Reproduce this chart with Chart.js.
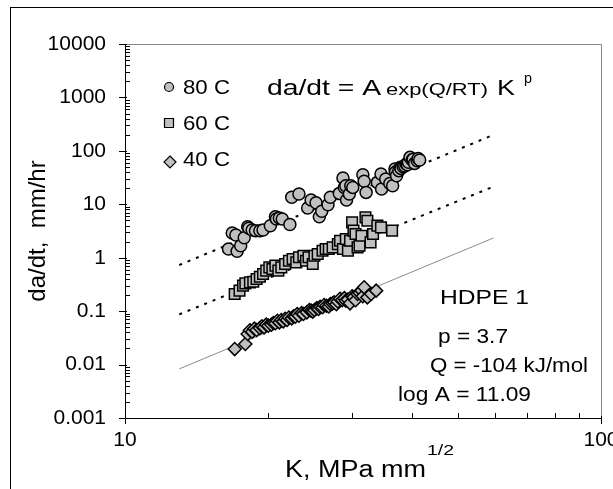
<!DOCTYPE html>
<html>
<head>
<meta charset="utf-8">
<script src="https://cdn.jsdelivr.net/npm/chart.js@4.4.0/dist/chart.umd.min.js"></script>
<style>
  html, body { margin: 0; padding: 0; background: #fff; }
</style>
</head>
<body>
<canvas id="chart" width="613" height="489"></canvas>
<script>
// 80 C data (K, da/dt)
const k80 = [16.5, 16.8, 17.1, 17.2, 17.5, 17.8, 18.1, 18.2, 18.5, 18.8, 19.2, 19.5, 20.2, 20.7, 20.8, 21.1, 21.4, 22.2, 22.4, 23.2,
  24.2, 24.6, 25.2, 25.6, 25.9, 26.7, 27.0, 28.2, 28.7, 28.9, 29.1, 29.2, 29.6, 29.8, 30.1, 31.6, 31.8, 32.1, 33.9, 34.5,
  34.6, 35.3, 36.0, 36.5, 36.9, 37.0, 37.2, 37.6, 37.9, 38.0, 38.4, 38.7, 39.0, 39.2, 39.4, 39.7, 40.1, 40.3, 40.6, 41.1, 41.3, 41.6];
const rate80 = [1.46, 2.9, 2.66, 1.32, 1.68, 2.37, 3.81, 3.55, 3.3, 3.21, 3.21, 3.3, 3.98, 5.86, 5.3, 5.53, 5.3, 4.2, 13.5, 15.6,
  8.5, 12.0, 10.7, 5.86, 7.4, 9.8, 13.5, 16.0, 31.0, 20.7, 22.3, 12.0, 15.6, 22.3, 20.7, 35.8, 26.9, 16.7, 25.7, 36.8,
  19.3, 29.7, 24.6, 22.3, 45.7, 40.0, 34.3, 42.6, 49.1, 47.0, 50.6, 52.0, 56.7, 55.0, 61.0, 75.6, 67.3, 70.0, 58.3, 65.5, 72.0, 67.3];

// 60 C data
const k60 = [17.0, 17.4, 17.7, 17.9, 18.3, 18.6, 18.9, 19.2, 19.5, 19.8, 20.1, 20.4, 20.7, 21.0, 21.3, 21.7, 22.1, 22.5, 22.9, 23.2,
  23.7, 24.0, 24.3, 24.8, 25.0, 25.4, 26.0, 26.4, 26.8, 27.3, 28.0, 28.3, 28.7, 29.1, 29.4, 29.7, 30.0, 30.2, 30.5, 30.8,
  31.1, 31.4, 32.0, 32.3, 32.8, 33.2, 33.9, 34.5, 36.4];
const rate60 = [0.209, 0.242, 0.30, 0.331, 0.346, 0.356, 0.399, 0.441, 0.495, 0.572, 0.66, 0.615, 0.71, 0.572, 0.66, 0.762, 0.879, 0.946, 0.818, 1.02,
  1.09, 0.879, 1.02, 0.762, 1.09, 1.17, 1.35, 1.46, 1.46, 1.56, 1.80, 2.08, 1.46, 2.24, 1.35, 2.08, 4.59, 3.21, 2.78, 1.56,
  1.68, 2.58, 5.69, 4.93, 1.94, 2.78, 3.98, 3.70, 3.21];

// 40 C data
const k40 = [17.0, 17.9, 18.1, 18.3, 18.5, 18.7, 18.9, 19.2, 19.4, 19.6, 19.8, 20.0, 20.3, 20.5, 20.7, 20.9, 21.1, 21.3, 21.5, 21.7,
  21.9, 22.1, 22.4, 22.6, 22.8, 23.0, 23.2, 23.5, 23.7, 24.1, 24.4, 24.6, 24.8, 25.0, 25.3, 25.5, 25.7, 26.0, 26.2, 26.5,
  26.8, 27.0, 27.3, 27.5, 27.8, 28.0, 28.3, 28.6, 28.9, 29.1, 29.4, 29.7, 30.0, 30.2, 30.5, 30.8, 31.1, 31.4, 31.6, 31.8,
  32.3, 32.9, 33.7];
const rate40 = [0.0195, 0.0243, 0.0373, 0.044, 0.0413, 0.047, 0.0444, 0.0483, 0.052, 0.0498, 0.056, 0.0535, 0.0558, 0.060, 0.0592, 0.066, 0.0617, 0.068, 0.0644, 0.072,
  0.0682, 0.076, 0.0733, 0.080, 0.0787, 0.088, 0.0822, 0.092, 0.0883, 0.095, 0.105, 0.102, 0.098, 0.105, 0.114, 0.110, 0.120, 0.118, 0.130, 0.126,
  0.122, 0.136, 0.140, 0.146, 0.135, 0.152, 0.170, 0.161, 0.175, 0.157, 0.165, 0.140, 0.190, 0.181, 0.160, 0.209, 0.220, 0.242, 0.190, 0.279,
  0.181, 0.209, 0.242];

// fitted power-law lines, p = 3.7
const fitK = [13, 59.5];
const fit80 = [0.73, 200];
const fit60 = [0.087, 21.5];
const fit40 = [0.0083, 2.35];

// axes
const xTickValues = [10, 20, 30, 40, 50, 60, 70, 80, 90, 100];
const xTickLabels = { 10: '10', 100: '100' };
const yTickValues = [];
[0.001, 0.01, 0.1, 1, 10, 100, 1000].forEach(d => {
  for (let m = 1; m < 10; m++) yTickValues.push(+(d * m).toPrecision(3));
});
yTickValues.push(10000);
const yTickLabels = { 0.001: '0.001', 0.01: '0.01', 0.1: '0.1', 1: '1', 10: '10', 100: '100', 1000: '1000', 10000: '10000' };

const pts = (xs, ys) => xs.map((x, i) => ({ x: x, y: ys[i] }));
const FONT = '"Liberation Sans", Arial, sans-serif';
const GREY = '#c0c0c0';

function isDecade(v) {
  const l = Math.log10(v);
  return Math.abs(l - Math.round(l)) < 1e-6;
}

// text stretched horizontally to span a given width (the source uses a wide face)
function fitText(ctx, str, x, y, size, w) {
  ctx.save();
  ctx.font = size + 'px ' + FONT;
  const sx = w / ctx.measureText(str).width;
  ctx.translate(x, y);
  ctx.scale(sx, 1);
  ctx.fillText(str, 0, 0);
  ctx.restore();
}

const decorations = {
  id: 'decorations',
  beforeDraw(chart) {
    const ctx = chart.ctx;
    ctx.save();
    ctx.fillStyle = '#fff';
    ctx.fillRect(0, 0, chart.width, chart.height);
    ctx.strokeStyle = '#000';
    ctx.lineWidth = 1;
    ctx.strokeRect(10.5, 7.5, 700, 600);
    ctx.restore();
  },
  afterDraw(chart) {
    const ctx = chart.ctx;
    const a = chart.chartArea;
    const xs = chart.scales.x, ys = chart.scales.y;
    ctx.save();
    // frame
    ctx.lineWidth = 1;
    ctx.strokeStyle = '#888';
    ctx.beginPath();
    ctx.moveTo(a.left, a.top + 0.5); ctx.lineTo(a.right + 0.5, a.top + 0.5); ctx.lineTo(a.right + 0.5, a.bottom);
    ctx.stroke();
    ctx.strokeStyle = '#000';
    ctx.beginPath();
    ctx.moveTo(a.left + 0.5, a.top); ctx.lineTo(a.left + 0.5, a.bottom + 0.5); ctx.lineTo(a.right + 1, a.bottom + 0.5);
    ctx.stroke();
    // ticks
    ctx.beginPath();
    ys.ticks.forEach(t => {
      const y = Math.round(ys.getPixelForValue(t.value)) + 0.5;
      if (isDecade(t.value)) { ctx.moveTo(a.left - 6, y); ctx.lineTo(a.left + 2, y); }
      else { ctx.moveTo(a.left, y); ctx.lineTo(a.left + 5, y); }
    });
    xs.ticks.forEach(t => {
      const x = Math.round(xs.getPixelForValue(t.value)) + 0.5;
      if (isDecade(t.value)) { ctx.moveTo(x, a.bottom - 2); ctx.lineTo(x, a.bottom + 6); }
      else { ctx.moveTo(x, a.bottom); ctx.lineTo(x, a.bottom - 5); }
    });
    ctx.stroke();

    // legend
    ctx.fillStyle = GREY;
    ctx.strokeStyle = '#000';
    ctx.lineWidth = 1.2;
    ctx.beginPath(); ctx.arc(169, 87, 4.5, 0, Math.PI * 2); ctx.fill(); ctx.stroke();
    ctx.beginPath(); ctx.rect(164.5, 118.5, 9, 9); ctx.fill(); ctx.stroke();
    ctx.beginPath(); ctx.moveTo(170, 156); ctx.lineTo(176, 162); ctx.lineTo(170, 168); ctx.lineTo(164, 162); ctx.closePath(); ctx.fill(); ctx.stroke();
    ctx.fillStyle = '#000';
    ctx.textBaseline = 'alphabetic';
    fitText(ctx, '80 C', 183, 94, 20, 47);
    fitText(ctx, '60 C', 183, 130, 20, 47);
    fitText(ctx, '40 C', 183, 166, 20, 47);

    // equation
    fitText(ctx, 'da/dt = A', 267, 95, 22, 114);
    fitText(ctx, 'exp(Q/RT)', 386, 95, 16, 102);
    fitText(ctx, 'K', 497, 95, 22, 18);
    fitText(ctx, 'p', 524, 83, 14, 8);

    // fit parameters
    fitText(ctx, 'HDPE 1', 440, 304, 21, 89);
    fitText(ctx, 'p = 3.7', 438, 343, 20, 70);
    fitText(ctx, 'Q = -104 kJ/mol', 430, 372, 20, 158);
    fitText(ctx, 'log A = 11.09', 398, 401, 20, 133);

    // x axis title
    fitText(ctx, 'K, MPa mm', 285, 477, 23, 141);
    fitText(ctx, '1/2', 427, 455, 15, 27);
    ctx.restore();
  }
};

new Chart(document.getElementById('chart').getContext('2d'), {
  type: 'scatter',
  data: {
    datasets: [
      {
        label: '80 C',
        data: pts(k80, rate80),
        pointStyle: 'circle',
        pointRadius: 6,
        backgroundColor: GREY,
        borderColor: '#000',
        borderWidth: 1.5,
        order: 1,
      },
      {
        label: '60 C',
        data: pts(k60, rate60),
        pointStyle: 'rect',
        pointRadius: 7.5,
        backgroundColor: GREY,
        borderColor: '#000',
        borderWidth: 1.5,
        order: 1,
      },
      {
        label: '40 C',
        data: pts(k40, rate40),
        pointStyle: 'rectRot',
        pointRadius: 6.5,
        backgroundColor: GREY,
        borderColor: '#000',
        borderWidth: 1.5,
        order: 1,
      },
      {
        label: 'fit 80 C',
        data: pts(fitK, fit80),
        showLine: true,
        pointRadius: 0,
        borderColor: '#000',
        borderWidth: 2,
        borderDash: [3, 6],
        order: 2,
      },
      {
        label: 'fit 60 C',
        data: pts(fitK, fit60),
        showLine: true,
        pointRadius: 0,
        borderColor: '#000',
        borderWidth: 2,
        borderDash: [3, 6],
        order: 2,
      },
      {
        label: 'fit 40 C',
        data: pts(fitK, fit40),
        showLine: true,
        pointRadius: 0,
        borderColor: '#8c8c8c',
        borderWidth: 1,
        order: 2,
      },
    ],
  },
  options: {
    responsive: false,
    animation: false,
    layout: { padding: { top: 44, right: 12, left: 0, bottom: 0 } },
    scales: {
      x: {
        type: 'logarithmic',
        min: 10,
        max: 100,
        afterBuildTicks: s => { s.ticks = xTickValues.map(v => ({ value: v })); },
        afterFit: s => { s.height = 71; s.paddingLeft = 0; s.paddingRight = 0; },
        grid: { display: false, drawTicks: false },
        border: { display: false },
        ticks: {
          autoSkip: false,
          maxRotation: 0,
          padding: 10,
          color: '#000',
          font: { family: FONT, size: 21 },
          callback: v => xTickLabels[v] || '',
        },
      },
      y: {
        type: 'logarithmic',
        min: 0.001,
        max: 10000,
        afterBuildTicks: s => { s.ticks = yTickValues.map(v => ({ value: v })); },
        afterFit: s => { s.width = 125; s.paddingTop = 0; s.paddingBottom = 0; },
        grid: { display: false, drawTicks: false },
        border: { display: false },
        ticks: {
          autoSkip: false,
          padding: 19,
          color: '#000',
          font: { family: FONT, size: 21 },
          callback: v => yTickLabels[v] || '',
        },
        title: {
          display: true,
          text: 'da/dt,  mm/hr',
          color: '#000',
          font: { family: FONT, size: 24 },
          padding: { top: 24, bottom: 0 },
        },
      },
    },
    plugins: { legend: { display: false }, tooltip: { enabled: false } },
  },
  plugins: [decorations],
});
</script>
</body>
</html>
